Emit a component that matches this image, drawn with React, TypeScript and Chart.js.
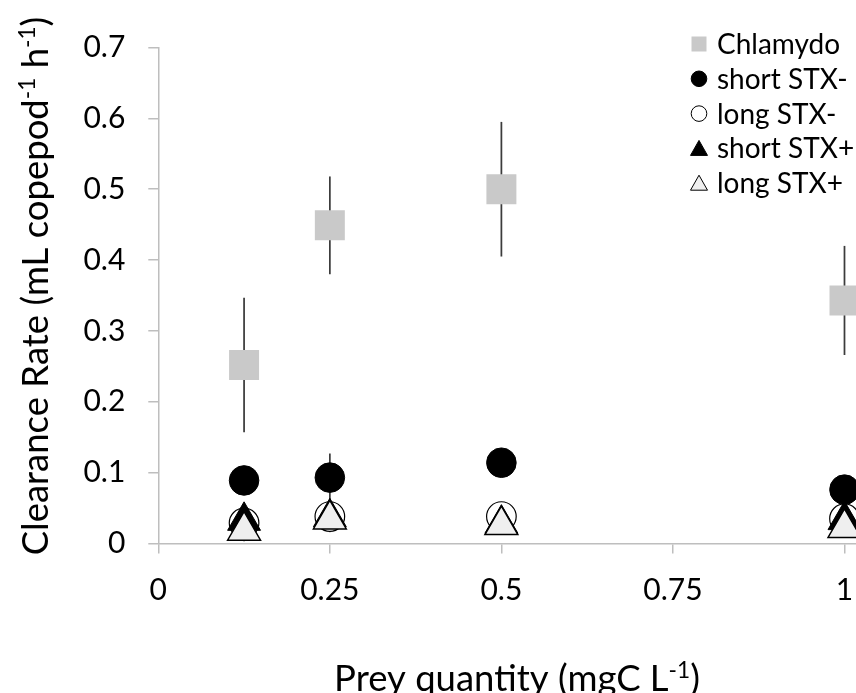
import React, { useEffect, useRef } from 'react';
import { Chart, registerables } from 'chart.js';

Chart.register(...registerables);

// ---- data ----
const preyQuantity = [0.125, 0.25, 0.5, 1];
const seriesNames = ['Chlamydo', 'short STX-', 'long STX-', 'short STX+', 'long STX+'];
const chlamydo = [0.252, 0.449, 0.5, 0.343];
const chlamydoErr = [0.095, 0.069, 0.095, 0.077];
const shortStxMinus = [0.089, 0.093, 0.114, 0.076];
const shortStxMinusErr = [0.012, 0.034, 0.012, 0.01];
const longStxMinus = [0.029, 0.038, 0.038, 0.035];
const longStxMinusErr = [0.01, 0.022, 0.012, 0.01];
const shortStxPlus = [0.032, 0.037, 0.028, 0.033];
const shortStxPlusErr = [0.01, 0.01, 0.01, 0.01];
const longStxPlus = [0.018, 0.034, 0.026, 0.022];
const longStxPlusErr = [0.015, 0.01, 0.01, 0.01];
const xTickValues = [0, 0.25, 0.5, 0.75, 1];
const xTickLabels = ['0', '0.25', '0.5', '0.75', '1'];
const yTickValues = [0, 0.1, 0.2, 0.3, 0.4, 0.5, 0.6, 0.7];
const yTickLabels = ['0', '0.1', '0.2', '0.3', '0.4', '0.5', '0.6', '0.7'];
const xTitle = [
  { t: 'Prey quantity (mgC L' },
  { t: '-1', sup: true },
  { t: ')' },
];
const yTitle = [
  { t: 'Clearance Rate (mL copepod' },
  { t: '-1', sup: true },
  { t: ' h' },
  { t: '-1', sup: true },
  { t: ')' },
];

const FONT = 'Lato, "Open Sans", sans-serif';

type Seg = { t: string; sup?: boolean };

function drawRich(ctx: CanvasRenderingContext2D, segs: Seg[], cx: number, baseY: number, size: number) {
  const supSize = size * 0.62;
  const widths = segs.map((s) => {
    ctx.font = `${s.sup ? supSize : size}px ${FONT}`;
    return ctx.measureText(s.t).width;
  });
  const total = widths.reduce((a, b) => a + b, 0);
  let x = cx - total / 2;
  ctx.textAlign = 'left';
  ctx.textBaseline = 'alphabetic';
  ctx.fillStyle = '#000';
  segs.forEach((s, i) => {
    ctx.font = `${s.sup ? supSize : size}px ${FONT}`;
    ctx.fillText(s.t, x, s.sup ? baseY - size * 0.36 : baseY);
    x += widths[i];
  });
}

const annotate = {
  id: 'annotate',
  beforeDatasetsDraw(chart: any) {
    const ctx = chart.ctx as CanvasRenderingContext2D;
    const xs = chart.scales.x;
    const ys = chart.scales.y;
    ctx.save();
    ctx.strokeStyle = '#3c3c3c';
    ctx.lineWidth = 1.75;
    chart.data.datasets.forEach((ds: any) => {
      const errs: number[] = ds.errors || [];
      ds.data.forEach((p: any, i: number) => {
        const e = errs[i];
        if (!e) return;
        const x = xs.getPixelForValue(p.x);
        ctx.beginPath();
        ctx.moveTo(x, ys.getPixelForValue(p.y + e));
        ctx.lineTo(x, ys.getPixelForValue(p.y - e));
        ctx.stroke();
      });
    });
    ctx.restore();
  },
  afterDraw(chart: any) {
    const ctx = chart.ctx as CanvasRenderingContext2D;
    ctx.save();
    // axis titles
    drawRich(ctx, xTitle, 517, 691, 36.5);
    ctx.save();
    ctx.translate(48, 286);
    ctx.rotate(-Math.PI / 2);
    drawRich(ctx, yTitle, 0, 0, 36.5);
    ctx.restore();

    // legend
    const lx = 699;
    const tx = 717;
    const top = 44;
    const step = 34.8;
    seriesNames.forEach((name, i) => {
      const y = top + i * step;
      ctx.beginPath();
      ctx.lineWidth = 1;
      ctx.strokeStyle = '#000';
      if (i === 0) {
        ctx.fillStyle = '#c9c9c9';
        ctx.fillRect(lx - 7.5, y - 7.5, 15, 15);
      } else if (i === 1 || i === 2) {
        ctx.arc(lx, y, 7.8, 0, Math.PI * 2);
        ctx.fillStyle = i === 1 ? '#000' : '#fff';
        ctx.fill();
        ctx.stroke();
      } else {
        ctx.moveTo(lx, y - 8);
        ctx.lineTo(lx + 8.5, y + 7);
        ctx.lineTo(lx - 8.5, y + 7);
        ctx.closePath();
        ctx.fillStyle = i === 3 ? '#000' : '#efefef';
        ctx.fill();
        ctx.stroke();
      }
      ctx.fillStyle = '#000';
      ctx.font = `28px ${FONT}`;
      ctx.textAlign = 'left';
      ctx.textBaseline = 'middle';
      ctx.fillText(name, tx, y + 1);
    });
    ctx.restore();
  },
};

function pts(values: number[]) {
  return preyQuantity.map((x, i) => ({ x, y: values[i] }));
}

export default function App() {
  const ref = useRef<HTMLCanvasElement | null>(null);
  useEffect(() => {
    if (!ref.current) return;
    const chart = new Chart(ref.current, {
      type: 'scatter',
      data: {
        datasets: [
          {
            label: seriesNames[0],
            data: pts(chlamydo),
            errors: chlamydoErr,
            pointStyle: 'rect',
            pointRadius: 21.2,
            pointHoverRadius: 21.2,
            backgroundColor: '#c9c9c9',
            borderColor: '#c9c9c9',
            borderWidth: 0,
            order: 5,
          } as any,
          {
            label: seriesNames[1],
            data: pts(shortStxMinus),
            errors: shortStxMinusErr,
            pointStyle: 'circle',
            pointRadius: 14.8,
            pointHoverRadius: 14.8,
            backgroundColor: '#000',
            borderColor: '#000',
            borderWidth: 1,
            order: 4,
          } as any,
          {
            label: seriesNames[2],
            data: pts(longStxMinus),
            errors: longStxMinusErr,
            pointStyle: 'circle',
            pointRadius: 14.8,
            pointHoverRadius: 14.8,
            backgroundColor: '#fff',
            borderColor: '#000',
            borderWidth: 1.2,
            order: 3,
          } as any,
          {
            label: seriesNames[3],
            data: pts(shortStxPlus),
            errors: shortStxPlusErr,
            pointStyle: 'triangle',
            pointRadius: 19,
            pointHoverRadius: 19,
            backgroundColor: '#000',
            borderColor: '#000',
            borderWidth: 1,
            order: 2,
          } as any,
          {
            label: seriesNames[4],
            data: pts(longStxPlus),
            errors: longStxPlusErr,
            pointStyle: 'triangle',
            pointRadius: 19,
            pointHoverRadius: 19,
            backgroundColor: '#efefef',
            borderColor: '#000',
            borderWidth: 1.5,
            order: 1,
          } as any,
        ],
      },
      options: {
        responsive: false,
        animation: false,
        devicePixelRatio: 1,
        layout: { padding: { left: 0, right: 19.3, top: 47.5, bottom: 0 } },
        plugins: { legend: { display: false }, tooltip: { enabled: false } },
        scales: {
          x: {
            type: 'linear',
            min: 0,
            max: 1.05,
            afterFit: (s: any) => {
              s.height = 149.5;
            },
            afterBuildTicks: (s: any) => {
              s.ticks = xTickValues.map((v) => ({ value: v }));
            },
            ticks: {
              padding: 19,
              color: '#000',
              font: { family: FONT, size: 30 },
              maxRotation: 0,
              autoSkip: false,
              callback: (v: any) => {
                const i = xTickValues.indexOf(Number(v));
                return i >= 0 ? xTickLabels[i] : '';
              },
            },
            grid: { drawOnChartArea: false, tickLength: 10, color: '#bebebe', lineWidth: 1.5 },
            border: { display: true, color: '#bebebe', width: 1.5 },
            title: { display: false },
          },
          y: {
            type: 'linear',
            min: 0,
            max: 0.7,
            afterFit: (s: any) => {
              s.width = 158.3;
            },
            afterBuildTicks: (s: any) => {
              s.ticks = yTickValues.map((v) => ({ value: v }));
            },
            ticks: {
              padding: 23,
              color: '#000',
              font: { family: FONT, size: 30 },
              autoSkip: false,
              callback: (v: any) => {
                const i = yTickValues.findIndex((t) => Math.abs(t - Number(v)) < 1e-9);
                return i >= 0 ? yTickLabels[i] : '';
              },
            },
            grid: { drawOnChartArea: false, tickLength: 10, color: '#bebebe', lineWidth: 1.5 },
            border: { display: true, color: '#bebebe', width: 1.5 },
            title: { display: false },
          },
        },
      },
      plugins: [annotate],
    } as any);
    return () => chart.destroy();
  }, []);

  return (
    <div
      style={{
        position: 'absolute',
        left: 0,
        top: 0,
        width: 856,
        height: 693,
        overflow: 'hidden',
        background: '#fff',
      }}
    >
      <canvas ref={ref} width={900} height={693} style={{ display: 'block', width: 900, height: 693 }} />
    </div>
  );
}
